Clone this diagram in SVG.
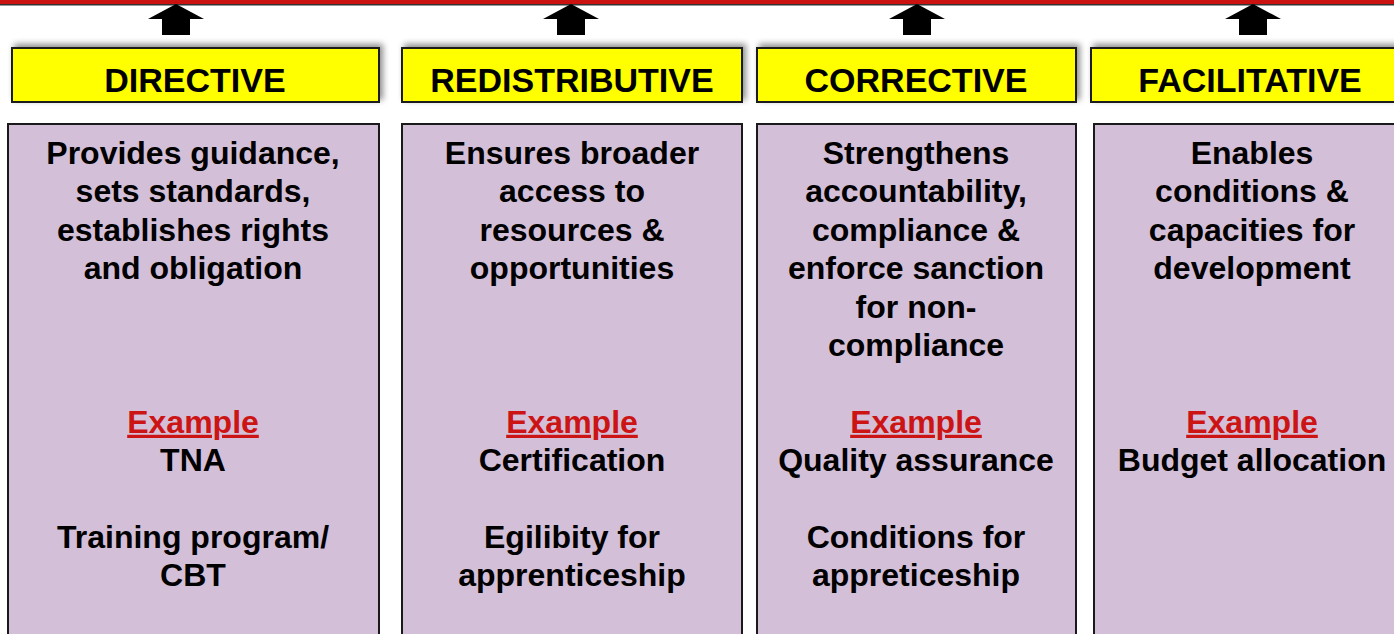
<svg xmlns="http://www.w3.org/2000/svg" width="1394" height="634" viewBox="0 0 1394 634">
  <defs>
    <filter id="soft" x="-10%" y="-40%" width="120%" height="180%">
      <feGaussianBlur in="SourceAlpha" stdDeviation="3"/>
      <feOffset dx="3" dy="-3" result="b"/>
      <feComponentTransfer><feFuncA type="linear" slope="0.45"/></feComponentTransfer>
      <feMerge><feMergeNode/><feMergeNode in="SourceGraphic"/></feMerge>
    </filter>
    <style>
      .hdr { fill: #ffff00; stroke: #1a1a1a; stroke-width: 2; }
      .body { fill: #d3bfd7; stroke: #1a1a1a; stroke-width: 2; }
      .title { font-family: "Liberation Sans", Arial, sans-serif; font-weight: bold; font-size: 34px; fill: #000; text-anchor: middle; }
      .txt { font-family: "Liberation Sans", Arial, sans-serif; font-weight: bold; font-size: 32px; fill: #000; text-anchor: middle; }
      .ex { fill: #cc1414; text-decoration: underline; }
      .arrow { fill: #000; }
    </style>
  </defs>

  <rect width="1394" height="634" fill="#ffffff"/>

  <!-- top red band -->
  <rect x="0" y="0" width="1394" height="4" fill="#cc1111"/>
  <rect x="0" y="4" width="1394" height="1.5" fill="#333333"/>

  <!-- upward arrows into the band -->
  <g id="connectors">
    <polygon class="arrow" points="148,19 176,4 204,19 190,19 190,35 162,35 162,19"/>
    <polygon class="arrow" points="543,19 571,4 599,19 585,19 585,35 557,35 557,19"/>
    <polygon class="arrow" points="889,19 917,4 945,19 931,19 931,35 903,35 903,19"/>
    <polygon class="arrow" points="1225,19 1253,4 1281,19 1267,19 1267,35 1239,35 1239,19"/>
  </g>

  <!-- DIRECTIVE column -->
  <g id="directive">
    <rect class="hdr" x="12" y="48" width="367" height="54" filter="url(#soft)"/>
    <text class="title" x="195" y="92">DIRECTIVE</text>
    <rect class="body" x="8" y="124" width="371" height="520"/>
    <text class="txt" x="193" y="164">Provides guidance,</text>
    <text class="txt" x="193" y="202.4">sets standards,</text>
    <text class="txt" x="193" y="240.8">establishes rights</text>
    <text class="txt" x="193" y="279.2">and obligation</text>
    <text class="txt ex" x="193" y="432.8">Example</text>
    <text class="txt" x="193" y="471.2">TNA</text>
    <text class="txt" x="193" y="548">Training program/</text>
    <text class="txt" x="193" y="586.4">CBT</text>
  </g>

  <!-- REDISTRIBUTIVE column -->
  <g id="redistributive">
    <rect class="hdr" x="402" y="48" width="340" height="54" filter="url(#soft)"/>
    <text class="title" x="572" y="92">REDISTRIBUTIVE</text>
    <rect class="body" x="402" y="124" width="340" height="520"/>
    <text class="txt" x="572" y="164">Ensures broader</text>
    <text class="txt" x="572" y="202.4">access to</text>
    <text class="txt" x="572" y="240.8">resources &amp;</text>
    <text class="txt" x="572" y="279.2">opportunities</text>
    <text class="txt ex" x="572" y="432.8">Example</text>
    <text class="txt" x="572" y="471.2">Certification</text>
    <text class="txt" x="572" y="548">Egilibity for</text>
    <text class="txt" x="572" y="586.4">apprenticeship</text>
  </g>

  <!-- CORRECTIVE column -->
  <g id="corrective">
    <rect class="hdr" x="757" y="48" width="319" height="54" filter="url(#soft)"/>
    <text class="title" x="916" y="92">CORRECTIVE</text>
    <rect class="body" x="757" y="124" width="319" height="520"/>
    <text class="txt" x="916" y="164">Strengthens</text>
    <text class="txt" x="916" y="202.4">accountability,</text>
    <text class="txt" x="916" y="240.8">compliance &amp;</text>
    <text class="txt" x="916" y="279.2">enforce sanction</text>
    <text class="txt" x="916" y="317.6">for non-</text>
    <text class="txt" x="916" y="356">compliance</text>
    <text class="txt ex" x="916" y="432.8">Example</text>
    <text class="txt" x="916" y="471.2">Quality assurance</text>
    <text class="txt" x="916" y="548">Conditions for</text>
    <text class="txt" x="916" y="586.4">appreticeship</text>
  </g>

  <!-- FACILITATIVE column -->
  <g id="facilitative">
    <rect class="hdr" x="1091" y="48" width="320" height="54" filter="url(#soft)"/>
    <text class="title" x="1250" y="92">FACILITATIVE</text>
    <rect class="body" x="1094" y="124" width="320" height="520"/>
    <text class="txt" x="1252" y="164">Enables</text>
    <text class="txt" x="1252" y="202.4">conditions &amp;</text>
    <text class="txt" x="1252" y="240.8">capacities for</text>
    <text class="txt" x="1252" y="279.2">development</text>
    <text class="txt ex" x="1252" y="432.8">Example</text>
    <text class="txt" x="1252" y="471.2">Budget allocation</text>
  </g>
</svg>
